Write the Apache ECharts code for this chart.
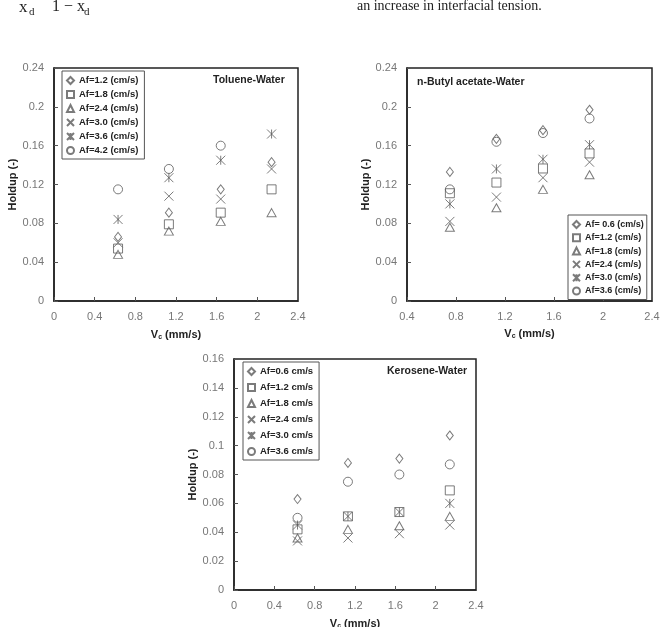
<!DOCTYPE html>
<html>
<head>
<meta charset="utf-8">
<script src="https://cdn.jsdelivr.net/npm/echarts@6/dist/echarts.min.js"></script>
<style>
html,body{margin:0;padding:0;background:#fff;}
#c{width:660px;height:627px;}
</style>
</head>
<body>
<div id="c"></div>
<script>
// ---------- Data ----------
// Toluene-Water
const tolueneVc = [0.63, 1.13, 1.64, 2.14];
const tolueneAf = ['Af=1.2 (cm/s)', 'Af=1.8 (cm/s)', 'Af=2.4 (cm/s)', 'Af=3.0 (cm/s)', 'Af=3.6 (cm/s)', 'Af=4.2 (cm/s)'];
const toluene12 = [0.066, 0.091, 0.115, 0.143];
const toluene18 = [0.054, 0.079, 0.091, 0.115];
const toluene24 = [0.048, 0.072, 0.082, 0.091];
const toluene30 = [0.060, 0.108, 0.105, 0.136];
const toluene36 = [0.084, 0.127, 0.145, 0.172];
const toluene42 = [0.115, 0.136, 0.160, null];

// n-Butyl acetate-Water
const butylVc = [0.75, 1.13, 1.51, 1.89];
const butylAf = ['Af= 0.6 (cm/s)', 'Af=1.2 (cm/s)', 'Af=1.8 (cm/s)', 'Af=2.4 (cm/s)', 'Af=3.0 (cm/s)', 'Af=3.6 (cm/s)'];
const butyl06 = [0.133, 0.167, 0.176, 0.197];
const butyl12 = [0.111, 0.122, 0.1365, 0.152];
const butyl18 = [0.076, 0.096, 0.115, 0.130];
const butyl24 = [0.082, 0.107, 0.127, 0.143];
const butyl30 = [0.100, 0.136, 0.146, 0.161];
const butyl36 = [0.115, 0.164, 0.173, 0.188];

// Kerosene-Water
const keroseneVc = [0.63, 1.13, 1.64, 2.14];
const keroseneAf = ['Af=0.6 cm/s', 'Af=1.2 cm/s', 'Af=1.8 cm/s', 'Af=2.4 cm/s', 'Af=3.0 cm/s', 'Af=3.6 cm/s'];
const kerosene06 = [0.063, 0.088, 0.091, 0.107];
const kerosene12 = [0.042, 0.051, 0.054, 0.069];
const kerosene18 = [0.036, 0.042, 0.0445, 0.051];
const kerosene24 = [0.034, 0.036, 0.039, 0.045];
const kerosene30 = [0.045, 0.051, 0.054, 0.060];
const kerosene36 = [0.050, 0.075, 0.080, 0.087];

// Axis ticks
const toluXAxis = {min: 0, max: 2.4, interval: 0.4};
const toluYAxis = {min: 0, max: 0.24, interval: 0.04};
const butyXAxis = {min: 0.4, max: 2.4, interval: 0.4};
const butyYAxis = {min: 0, max: 0.24, interval: 0.04};
const keroXAxis = {min: 0, max: 2.4, interval: 0.4};
const keroYAxis = {min: 0, max: 0.16, interval: 0.02};

// ---------- Styling ----------
const SANS = '"Liberation Sans", Arial, sans-serif';
const SERIF = '"Liberation Serif", "Times New Roman", serif';
const MARK = '#5a5a5a';
const symbols = [
  {symbol: 'diamond', size: [7, 9]},
  {symbol: 'rect', size: 9},
  {symbol: 'triangle', size: [9, 8]},
  {symbol: 'path://M0,0L10,10M10,0L0,10', size: 9},
  {symbol: 'path://M0,0L10,10M10,0L0,10M5,0L5,10', size: 9},
  {symbol: 'circle', size: 9}
];

function pairs(xs, ys) { return xs.map((x, i) => [x, ys[i]]); }

function makeSeries(prefix, af, xs, ysList, idx) {
  return ysList.map((ys, k) => ({
    type: 'scatter',
    name: prefix + '|' + af[k],
    xAxisIndex: idx, yAxisIndex: idx,
    symbol: symbols[k].symbol,
    symbolSize: symbols[k].size,
    itemStyle: {color: 'rgba(0,0,0,0)', borderColor: MARK, borderWidth: 1},
    emphasis: {disabled: true},
    data: pairs(xs, ys)
  }));
}

const fmt = v => String(+v.toFixed(2));

function xAxis(idx, cfg, gap) {
  return Object.assign({
    gridIndex: idx, type: 'value',
    name: '{v|V}{s|c}{v| (mm/s)}', nameLocation: 'middle', nameGap: gap,
    nameTextStyle: {rich: {
      v: {fontFamily: SANS, fontSize: 11, fontWeight: 'bold', color: '#222'},
      s: {fontFamily: SANS, fontSize: 7, fontWeight: 'bold', color: '#222', verticalAlign: 'bottom', padding: [6, 0, 0, 0]}
    }},
    axisLine: {show: true, lineStyle: {color: '#222', width: 1.5}},
    axisTick: {show: true, inside: true, length: 4, lineStyle: {color: '#555'}},
    axisLabel: {color: '#777', fontFamily: SANS, fontSize: 11, margin: 10, formatter: fmt},
    splitLine: {show: false}
  }, cfg);
}
function yAxis(idx, cfg, gap) {
  return Object.assign({
    gridIndex: idx, type: 'value',
    name: 'Holdup (-)', nameLocation: 'middle', nameGap: gap,
    nameTextStyle: {fontFamily: SANS, fontSize: 11, fontWeight: 'bold', color: '#222'},
    axisLine: {show: true, lineStyle: {color: '#222', width: 1.5}},
    axisTick: {show: true, inside: true, length: 4, lineStyle: {color: '#555'}},
    axisLabel: {color: '#777', fontFamily: SANS, fontSize: 11, margin: 10, formatter: fmt},
    splitLine: {show: false}
  }, cfg);
}

function legend(prefix, af, left, top, gap, pad, fs) {
  return {
    orient: 'vertical', left: left, top: top,
    padding: pad || [4, 6, 3, 4],
    borderColor: '#555', borderWidth: 1, backgroundColor: '#fff',
    itemWidth: 7, itemHeight: 7, itemGap: gap,
    selectedMode: false,
    textStyle: {fontFamily: SANS, fontSize: fs || 9.5, fontWeight: 'bold', color: '#222', lineHeight: 11},
    data: af.map(a => prefix + '|' + a),
    formatter: n => n.split('|')[1]
  };
}

const gridBase = {show: true, borderColor: '#222', borderWidth: 1.5, backgroundColor: 'transparent', containLabel: false, outerBoundsMode: 'none'};

const option = {
  backgroundColor: '#fff',
  animation: false,
  grid: [
    Object.assign({left: 54, top: 68, width: 244, height: 233}, gridBase),
    Object.assign({left: 407, top: 68, width: 245, height: 233}, gridBase),
    Object.assign({left: 234, top: 359, width: 242, height: 231}, gridBase)
  ],
  xAxis: [
    xAxis(0, toluXAxis, 27),
    xAxis(1, butyXAxis, 26),
    xAxis(2, keroXAxis, 27)
  ],
  yAxis: [
    yAxis(0, toluYAxis, 31),
    yAxis(1, butyYAxis, 28),
    yAxis(2, keroYAxis, 30)
  ],
  title: [
    {text: 'Toluene-Water', left: 213, top: 75, padding: 0, textStyle: {fontFamily: SANS, fontSize: 10.5, fontWeight: 'bold', color: '#222'}},
    {text: 'n-Butyl acetate-Water', left: 417, top: 77, padding: 0, textStyle: {fontFamily: SANS, fontSize: 10.5, fontWeight: 'bold', color: '#222'}},
    {text: 'Kerosene-Water', left: 387, top: 366, padding: 0, textStyle: {fontFamily: SANS, fontSize: 10.5, fontWeight: 'bold', color: '#222'}}
  ],
  legend: [
    legend('Toluene', tolueneAf, 62, 71, 3),
    legend('Butyl', butylAf, 568, 215, 2.3, [4, 3, 3, 4], 9),
    legend('Kerosene', keroseneAf, 243, 362, 5)
  ],
  graphic: [
    {type: 'text', x: 19, y: 8, style: {text: 'x', font: '17px ' + SERIF, fill: '#222', verticalAlign: 'middle'}},
    {type: 'text', x: 29, y: 12, style: {text: 'd', font: '11px ' + SERIF, fill: '#222', verticalAlign: 'middle'}},
    {type: 'text', x: 52, y: 7, style: {text: '1 − x', font: '16px ' + SERIF, fill: '#222', verticalAlign: 'middle'}},
    {type: 'text', x: 84, y: 12, style: {text: 'd', font: '11px ' + SERIF, fill: '#222', verticalAlign: 'middle'}},
    {type: 'text', x: 357, y: 6, style: {text: 'an increase in interfacial tension.', font: '14px ' + SERIF, fill: '#222', verticalAlign: 'middle'}}
  ],
  series: [].concat(
    makeSeries('Toluene', tolueneAf, tolueneVc, [toluene12, toluene18, toluene24, toluene30, toluene36, toluene42], 0),
    makeSeries('Butyl', butylAf, butylVc, [butyl06, butyl12, butyl18, butyl24, butyl30, butyl36], 1),
    makeSeries('Kerosene', keroseneAf, keroseneVc, [kerosene06, kerosene12, kerosene18, kerosene24, kerosene30, kerosene36], 2)
  )
};

const chart = echarts.init(document.getElementById('c'), null, {renderer: 'canvas'});
chart.setOption(option);
</script>
</body>
</html>
